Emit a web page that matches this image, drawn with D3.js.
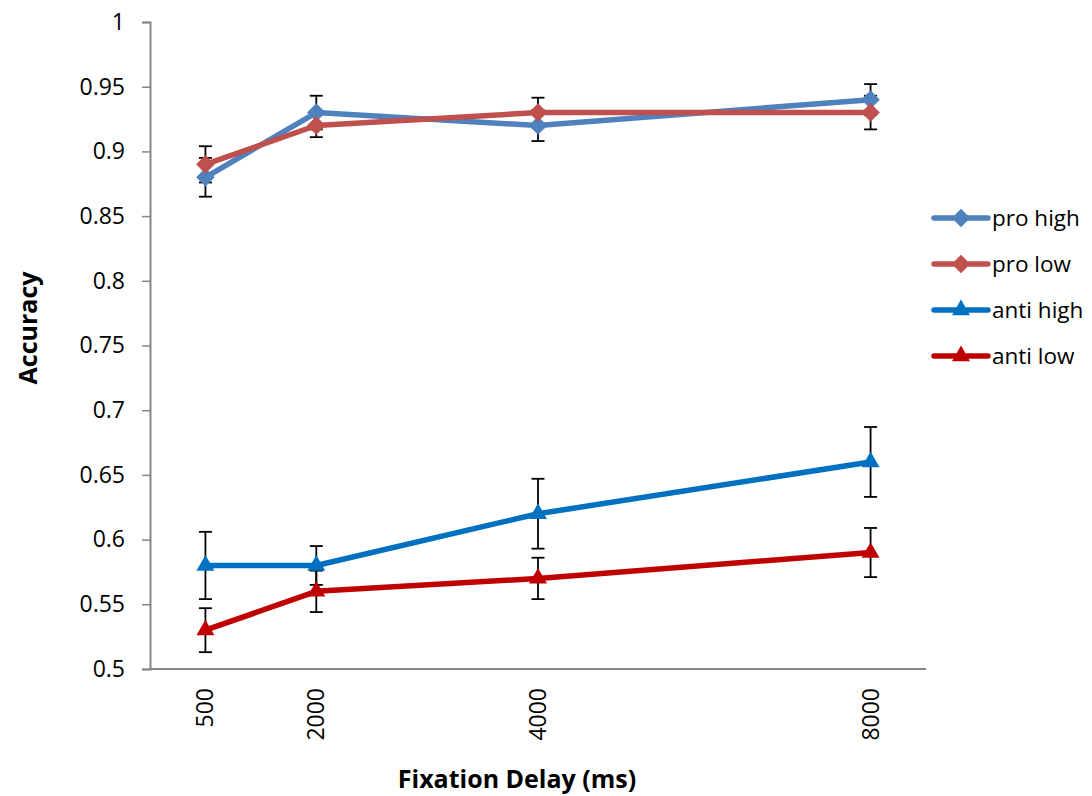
<!DOCTYPE html>
<html>
<head>
<meta charset="utf-8">
<script src="https://cdn.jsdelivr.net/npm/d3@7"></script>
<style>
  body { margin: 0; background: #fff; }
  text { font-family: "Open Sans", "Noto Sans", sans-serif; fill: #000; }
</style>
</head>
<body>
<div id="chart"></div>
<script>
const delays = [500, 2000, 4000, 8000];
const seriesNames = ["pro high", "pro low", "anti high", "anti low"];
const proHigh = [0.88, 0.93, 0.92, 0.94];
const proLow = [0.89, 0.92, 0.93, 0.93];
const antiHigh = [0.58, 0.58, 0.62, 0.66];
const antiLow = [0.53, 0.56, 0.57, 0.59];
const proHighErr = [0.015, 0.013, 0.012, 0.012];
const proLowErr = [0.014, 0.009, 0.0115, 0.013];
const antiHighErr = [0.026, 0.015, 0.027, 0.027];
const antiLowErr = [0.017, 0.016, 0.016, 0.019];
const yTicks = [0.5, 0.55, 0.6, 0.65, 0.7, 0.75, 0.8, 0.85, 0.9, 0.95, 1];

const series = [
  { name: seriesNames[0], values: proHigh, err: proHighErr, color: "#4F81BD", shape: "diamond" },
  { name: seriesNames[1], values: proLow, err: proLowErr, color: "#C0504D", shape: "diamond" },
  { name: seriesNames[2], values: antiHigh, err: antiHighErr, color: "#0070C0", shape: "triangle" },
  { name: seriesNames[3], values: antiLow, err: antiLowErr, color: "#C00000", shape: "triangle" }
];

const width = 1092, height = 796;
const plot = { left: 150, top: 22, right: 926, bottom: 669 };
const unit = (plot.right - plot.left) / 7;

const svg = d3.select("#chart")
  .append("svg")
  .attr("width", width)
  .attr("height", height);

// x axis spacing follows the original (uneven slots)
const x = d3.scaleLinear()
  .domain(delays)
  .range([0.5, 1.5, 3.5, 6.5].map(u => plot.left + u * unit));

const y = d3.scaleLinear()
  .domain([0.5, 1])
  .range([plot.bottom, plot.top]);

// y axis
const yAxis = svg.append("g")
  .attr("transform", `translate(${plot.left},0)`)
  .call(d3.axisLeft(y).tickValues(yTicks).tickSize(8).tickPadding(17)
    .tickFormat(d => d3.format("")(+d.toFixed(2))));
yAxis.select(".domain").attr("stroke", "#868686").attr("stroke-width", 2);
yAxis.selectAll(".tick line").attr("stroke", "#868686").attr("stroke-width", 1.5);
yAxis.selectAll(".tick text").style("font-size", "23px").attr("fill", "#000");

// x axis line
svg.append("line")
  .attr("x1", plot.left).attr("x2", plot.right)
  .attr("y1", plot.bottom).attr("y2", plot.bottom)
  .attr("stroke", "#868686").attr("stroke-width", 2);

// x tick labels (rotated)
svg.selectAll(".xlab")
  .data(delays)
  .join("text")
  .attr("class", "xlab")
  .attr("transform", d => `translate(${x(d) + 8},${plot.bottom + 19}) rotate(-90)`)
  .attr("text-anchor", "end")
  .style("font-size", "23px")
  .text(d => d);

// axis titles
svg.append("text")
  .attr("x", 517)
  .attr("y", 788)
  .attr("text-anchor", "middle")
  .style("font-size", "25px")
  .style("font-weight", "bold")
  .text("Fixation Delay (ms)");

svg.append("text")
  .attr("transform", `translate(37,328) rotate(-90)`)
  .attr("text-anchor", "middle")
  .style("font-size", "25px")
  .style("font-weight", "bold")
  .text("Accuracy");

const line = d3.line()
  .x((d, i) => x(delays[i]))
  .y(d => y(d));

const diamond = d3.symbol().type(d3.symbolDiamond2).size(220);
const triangle = d3.symbol().type(d3.symbolTriangle).size(140);

// error bars
series.forEach(s => {
  const g = svg.append("g");
  s.values.forEach((v, i) => {
    const cx = x(delays[i]);
    g.append("line")
      .attr("x1", cx).attr("x2", cx)
      .attr("y1", y(v - s.err[i])).attr("y2", y(v + s.err[i]))
      .attr("stroke", "#000").attr("stroke-width", 1.8);
    [v - s.err[i], v + s.err[i]].forEach(e => {
      g.append("line")
        .attr("x1", cx - 6.5).attr("x2", cx + 6.5)
        .attr("y1", y(e)).attr("y2", y(e))
        .attr("stroke", "#000").attr("stroke-width", 1.8);
    });
  });
});

// lines and markers
series.forEach(s => {
  svg.append("path")
    .datum(s.values)
    .attr("d", line)
    .attr("fill", "none")
    .attr("stroke", s.color)
    .attr("stroke-width", 5.5)
    .attr("stroke-linejoin", "round");

  svg.selectAll(null)
    .data(s.values)
    .join("path")
    .attr("d", s.shape === "diamond" ? diamond : triangle)
    .attr("transform", (d, i) => `translate(${x(delays[i])},${y(d)})`)
    .attr("fill", s.color);
});

// legend
const legend = svg.append("g").attr("transform", "translate(934,218)");
series.forEach((s, i) => {
  const g = legend.append("g").attr("transform", `translate(0,${i * 46})`);
  g.append("line")
    .attr("x1", 0).attr("x2", 54)
    .attr("stroke", s.color).attr("stroke-width", 5.5)
    .attr("stroke-linecap", "round");
  g.append("path")
    .attr("d", s.shape === "diamond" ? diamond : triangle)
    .attr("transform", "translate(27,0)")
    .attr("fill", s.color);
  g.append("text")
    .attr("x", 58)
    .attr("y", 8)
    .style("font-size", "22.5px")
    .text(s.name);
});
</script>
</body>
</html>
